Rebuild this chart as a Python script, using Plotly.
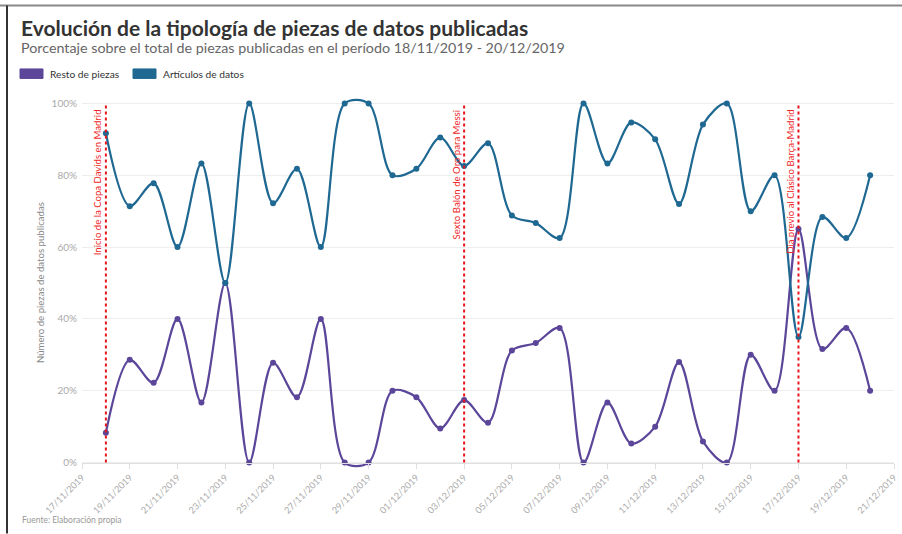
import plotly.graph_objects as go
import pandas as pd

# ---- data ----
fechas = [d.strftime("%Y-%m-%d") for d in pd.date_range("2019-11-18", "2019-12-20", freq="D")]

resto_piezas = [8.3, 28.6, 22.2, 40.0, 16.7, 50.0, 0.0, 27.8, 18.2, 40.0, 0.0, 0.0,
                20.0, 18.2, 9.5, 17.4, 11.1, 31.2, 33.3, 37.5, 0.0, 16.7, 5.3, 10.0,
                28.0, 5.9, 0.0, 30.0, 20.0, 65.0, 31.6, 37.5, 20.0]

articulos_datos = [91.7, 71.4, 77.8, 60.0, 83.3, 50.0, 100.0, 72.2, 81.8, 60.0, 100.0, 100.0,
                   80.0, 81.8, 90.5, 82.6, 88.9, 68.8, 66.7, 62.5, 100.0, 83.3, 94.7, 90.0,
                   72.0, 94.1, 100.0, 70.0, 80.0, 35.0, 68.4, 62.5, 80.0]

series_names = ["Resto de piezas", "Artículos de datos"]
event_dates = ["2019-11-18", "2019-12-03", "2019-12-17"]
event_labels = ["Inicio de la Copa Davids en Madrid",
                "Sexto Balón de Oro para Messi",
                "Día previo al Clásico Barça-Madrid"]
y_ticks = [0, 20, 40, 60, 80, 100]
y_tick_labels = ["0%", "20%", "40%", "60%", "80%", "100%"]

TITLE = "Evolución de la tipología de piezas de datos publicadas"
SUBTITLE = "Porcentaje sobre el total de piezas publicadas en el período 18/11/2019 - 20/12/2019"
Y_TITLE = "Número de piezas de datos publicadas"
SOURCE = "Fuente: Elaboración propia"

# ---- style / layout geometry ----
PURPLE = "#5b4699"
BLUE = "#1f6892"
FONT = "Lato"
W, H = 902, 534
PAD = 1.5                      # small headroom so the spline is not clipped at 0 / 100
Y0_PX, Y100_PX = 463, 103      # pixel rows of 0% and 100%
UNIT = (Y0_PX - Y100_PX) / 100
ML, MR = 82, 8
MT = Y100_PX - PAD * UNIT
MB = H - (Y0_PX + PAD * UNIT)
PW, PH = W - ML - MR, H - MT - MB


def px(x):
    return (x - ML) / PW


def py(y):
    return (H - MB - y) / PH


fig = go.Figure()
for name, vals, col in [(series_names[0], resto_piezas, PURPLE),
                        (series_names[1], articulos_datos, BLUE)]:
    fig.add_trace(go.Scatter(
        x=fechas, y=vals, name=name, mode="lines+markers",
        line=dict(color=col, width=2.2, shape="spline", smoothing=0.9),
        marker=dict(color=col, size=6),
        showlegend=False, cliponaxis=False,
        hovertemplate="%{x|%d/%m/%Y}: %{y:.1f}%<extra>" + name + "</extra>",
    ))

shapes = []
annotations = []

# event lines
for d, lab in zip(event_dates, event_labels):
    shapes.append(dict(type="line", xref="x", yref="y", x0=d, x1=d, y0=0, y1=100,
                       line=dict(color="#e8141c", width=2, dash="dot"), layer="above"))
    annotations.append(dict(x=d, y=100, xref="x", yref="y", text=lab, showarrow=False,
                            textangle=-90, xanchor="center", yanchor="top", xshift=-8, yshift=-4,
                            font=dict(family=FONT, size=9.6, color="#ee2a2a")))

# frame
shapes.append(dict(type="line", xref="paper", yref="paper", x0=px(0), x1=px(W), y0=py(5), y1=py(5),
                   line=dict(color="#888888", width=2)))
shapes.append(dict(type="line", xref="paper", yref="paper", x0=px(7), x1=px(7), y0=py(5), y1=py(H),
                   line=dict(color="#333333", width=2)))

# title & subtitle
annotations.append(dict(x=px(19), y=py(27), xref="paper", yref="paper", text="<b>" + TITLE + "</b>",
                        showarrow=False, xanchor="left", yanchor="middle",
                        font=dict(family=FONT, size=21, color="#333333")))
annotations.append(dict(x=px(19), y=py(47), xref="paper", yref="paper", text=SUBTITLE,
                        showarrow=False, xanchor="left", yanchor="middle",
                        font=dict(family=FONT, size=14.3, color="#666666")))

# legend (custom swatches)
leg_x = [20, 133]
for (name, col), lx in zip([(series_names[0], PURPLE), (series_names[1], BLUE)], leg_x):
    shapes.append(dict(type="rect", xref="paper", yref="paper", x0=px(lx), x1=px(lx + 23),
                       y0=py(68.5), y1=py(78), fillcolor=col, line=dict(color=col, width=1)))
    annotations.append(dict(x=px(lx + 28), y=py(73.5), xref="paper", yref="paper", text=name,
                            showarrow=False, xanchor="left", yanchor="middle",
                            font=dict(family=FONT, size=10.2, color="#333333")))

# y-axis title
annotations.append(dict(x=px(40), y=py(283), xref="paper", yref="paper", text=Y_TITLE, showarrow=False,
                        textangle=-90, xanchor="center", yanchor="middle",
                        font=dict(family=FONT, size=9.6, color="#888888")))

# source
annotations.append(dict(x=px(20), y=py(521), xref="paper", yref="paper", text=SOURCE, showarrow=False,
                        xanchor="left", yanchor="middle",
                        font=dict(family=FONT, size=8.5, color="#999999")))

fig.update_layout(
    width=W, height=H,
    margin=dict(l=ML, r=MR, t=MT, b=MB, pad=0, autoexpand=False),
    paper_bgcolor="white", plot_bgcolor="white",
    font=dict(family=FONT, color="#999999"),
    shapes=shapes, annotations=annotations,
    showlegend=False,
)
fig.update_xaxes(
    type="date", range=["2019-11-17", "2019-12-21"], automargin=False,
    anchor="free", position=PAD / (100 + 2 * PAD),
    tickmode="linear", tick0="2019-11-17", dtick=2 * 86400000,
    tickformat="%d/%m/%Y", tickangle=-45,
    tickfont=dict(family=FONT, size=9.2, color="#aaaaaa"),
    showgrid=False, showline=True, linecolor="#e0e0e0", linewidth=1,
    ticks="outside", ticklen=5, tickcolor="#e0e0e0", zeroline=False,
)
fig.update_yaxes(
    range=[-PAD, 100 + PAD], tickmode="array", tickvals=y_ticks, ticktext=y_tick_labels,
    automargin=False,
    tickfont=dict(family=FONT, size=10, color="#aaaaaa"),
    showgrid=True, gridcolor="#eeeeee", gridwidth=1, zeroline=False,
    showline=False, ticks="", ticklabelstandoff=4,
)

fig.write_html("out.html", config={"displayModeBar": False},
               post_script="document.body.style.margin='0px';")
